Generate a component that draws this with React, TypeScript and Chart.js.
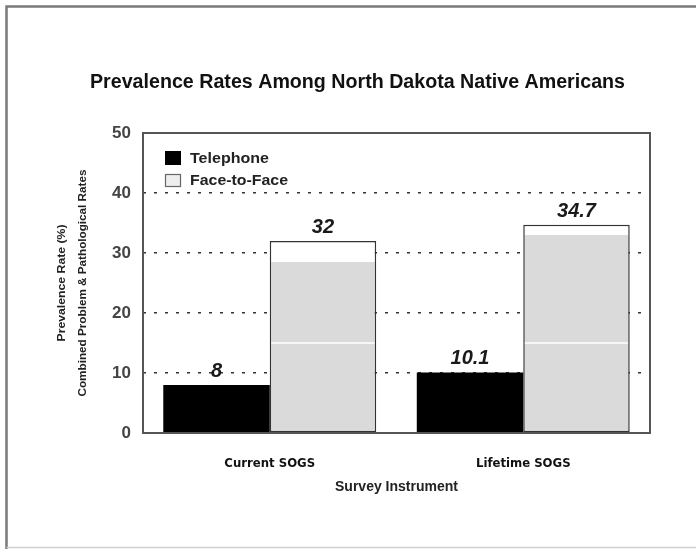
import React, { useEffect, useRef } from "react";
import { Chart, registerables } from "chart.js";
Chart.register(...registerables);

const categories = ["Current SOGS", "Lifetime SOGS"];
const seriesLabels = ["Telephone", "Face-to-Face"];
const telephone = [8, 10.1];
const faceToFace = [32, 34.7];
const faceShadeTop = [28.5, 33];
const faceBandLine = 15;
const yMin = 0;
const yMax = 50;
const yStep = 10;
const titleText = "Prevalence Rates Among North Dakota Native Americans";
const yTitleLines = ["Prevalence Rate (%)", "Combined Problem & Pathological Rates"];
const xTitleText = "Survey Instrument";

const GRAY = "#dadada";
const NARROW = "'Liberation Sans Narrow', 'DejaVu Sans Condensed', 'Liberation Sans', Arial, sans-serif";
const SANS = "'Liberation Sans', Arial, sans-serif";

function fitText(ctx: CanvasRenderingContext2D, text: string, cx: number, cy: number, width: number) {
  const w = ctx.measureText(text).width;
  const sx = width / w;
  ctx.save();
  ctx.translate(cx, cy);
  ctx.scale(sx, 1);
  ctx.textAlign = "center";
  ctx.textBaseline = "middle";
  ctx.fillText(text, 0, 0);
  ctx.restore();
}

const decorPlugin = {
  id: "decor",
  beforeDraw(chart: any) {
    const ctx = chart.ctx as CanvasRenderingContext2D;
    ctx.save();
    ctx.fillStyle = "#fff";
    ctx.fillRect(0, 0, chart.width, chart.height);
    ctx.strokeStyle = "#7a7a7a";
    ctx.lineWidth = 2.5;
    ctx.beginPath();
    ctx.moveTo(6.5, chart.height);
    ctx.lineTo(6.5, 6.5);
    ctx.lineTo(chart.width, 6.5);
    ctx.stroke();
    ctx.strokeStyle = "#d0d0d0";
    ctx.lineWidth = 1.5;
    ctx.beginPath();
    ctx.moveTo(6.5, 547.5);
    ctx.lineTo(chart.width, 547.5);
    ctx.stroke();
    ctx.restore();
  },
  afterDraw(chart: any) {
    const ctx = chart.ctx as CanvasRenderingContext2D;
    const a = chart.chartArea;
    ctx.save();
    // plot border
    ctx.setLineDash([]);
    ctx.strokeStyle = "#555";
    ctx.lineWidth = 2;
    ctx.strokeRect(a.left, a.top, a.right - a.left, a.bottom - a.top);

    // title
    ctx.fillStyle = "#111";
    ctx.font = `bold 20px ${SANS}`;
    fitText(ctx, titleText, (90 + 625) / 2, 82, 535);

    // y title
    ctx.fillStyle = "#222";
    ctx.font = `bold 10px ${SANS}`;
    const cy = (a.top + a.bottom) / 2;
    ctx.save();
    ctx.translate(62, cy);
    ctx.rotate(-Math.PI / 2);
    fitText(ctx, yTitleLines[0], 0, 0, 117);
    ctx.restore();
    ctx.save();
    ctx.translate(83, cy);
    ctx.rotate(-Math.PI / 2);
    fitText(ctx, yTitleLines[1], 0, 0, 227);
    ctx.restore();

    // x title
    ctx.fillStyle = "#222";
    ctx.font = `bold 15px ${SANS}`;
    fitText(ctx, xTitleText, (a.left + a.right) / 2, 487, 123);

    // legend
    const lx = a.left + 22;
    ctx.fillStyle = "#000";
    ctx.fillRect(lx, 151, 16, 14);
    ctx.fillStyle = "#eee";
    ctx.fillRect(lx, 174, 16, 13);
    ctx.strokeStyle = "#666";
    ctx.lineWidth = 1.2;
    ctx.strokeRect(lx + 0.5, 174.5, 15, 12);
    ctx.fillStyle = "#222";
    ctx.font = `bold 15px ${SANS}`;
    ctx.textAlign = "left";
    ctx.textBaseline = "middle";
    const t0 = ctx.measureText(seriesLabels[0]).width;
    ctx.save();
    ctx.translate(lx + 25, 158.5);
    ctx.scale(79 / t0, 1);
    ctx.fillText(chart.data.datasets[0].label, 0, 0);
    ctx.restore();
    const t1 = ctx.measureText(seriesLabels[1]).width;
    ctx.save();
    ctx.translate(lx + 25, 181);
    ctx.scale(98 / t1, 1);
    ctx.fillText(chart.data.datasets[1].label, 0, 0);
    ctx.restore();

    // value labels
    ctx.fillStyle = "#1a1a1a";
    ctx.font = `italic bold 20px ${SANS}`;
    ctx.textAlign = "center";
    ctx.textBaseline = "alphabetic";
    chart.data.datasets.forEach((ds: any, di: number) => {
      const meta = chart.getDatasetMeta(di);
      meta.data.forEach((el: any, i: number) => {
        ctx.fillText(String(ds.data[i]), el.x, el.y - 8);
      });
    });
    ctx.restore();
  },
};

export default function App() {
  const ref = useRef<HTMLCanvasElement>(null);
  useEffect(() => {
    if (!ref.current) return;
    const faceFill = (c: any) => {
      const chart = c.chart;
      const ys = chart.scales?.y;
      if (!ys || c.type !== "data" || c.dataIndex == null) return GRAY;
      const i = c.dataIndex;
      const top = ys.getPixelForValue(faceToFace[i]);
      const bot = ys.getPixelForValue(0);
      if (!isFinite(top) || !isFinite(bot) || bot - top < 2) return GRAY;
      const g = chart.ctx.createLinearGradient(0, top, 0, bot);
      const p = (v: number) => Math.min(1, Math.max(0, (ys.getPixelForValue(v) - top) / (bot - top)));
      const s = p(faceShadeTop[i]);
      const l = p(faceBandLine);
      const lw = 1 / (bot - top);
      g.addColorStop(0, "#fff");
      g.addColorStop(s, "#fff");
      g.addColorStop(s, GRAY);
      g.addColorStop(l - lw, GRAY);
      g.addColorStop(l - lw, "#f6f6f6");
      g.addColorStop(l + lw, "#f6f6f6");
      g.addColorStop(l + lw, GRAY);
      g.addColorStop(1, GRAY);
      return g;
    };
    const chart = new Chart(ref.current, {
      type: "bar",
      data: {
        labels: categories,
        datasets: [
          {
            label: seriesLabels[0],
            data: telephone,
            backgroundColor: "#000",
            borderWidth: 0,
            categoryPercentage: 0.84,
            barPercentage: 1.0,
          },
          {
            label: seriesLabels[1],
            data: faceToFace,
            backgroundColor: faceFill,
            borderColor: "#333",
            borderWidth: 1.5,
            borderSkipped: false,
            categoryPercentage: 0.84,
            barPercentage: 1.0,
          },
        ],
      },
      options: {
        responsive: false,
        animation: false,
        layout: { padding: { left: 103, top: 133, right: 46, bottom: 0 } },
        plugins: {
          legend: { display: false },
          title: { display: false },
          tooltip: { enabled: false },
        },
        scales: {
          x: {
            grid: { display: false },
            border: { display: false },
            ticks: {
              color: "#111",
              font: { family: NARROW, size: 13, weight: "bold" },
              padding: 15,
            },
            afterFit: (s: any) => {
              s.height = 116;
            },
          },
          y: {
            min: yMin,
            max: yMax,
            ticks: {
              stepSize: yStep,
              color: "#444",
              font: { family: SANS, size: 17, weight: "bold" },
              padding: 12,
            },
            grid: {
              drawTicks: false,
              color: (c: any) =>
                c.tick && (c.tick.value === yMin || c.tick.value === yMax) ? "rgba(0,0,0,0)" : "#333",
              lineWidth: 1.5,
            },
            border: { display: false, dash: [3, 8] },
            afterFit: (s: any) => {
              s.width = 40;
            },
          },
        },
      },
      plugins: [decorPlugin],
    } as any);
    return () => chart.destroy();
  }, []);
  return (
    <div style={{ position: "absolute", left: 0, top: 0, width: 696, height: 549 }}>
      <canvas ref={ref} width={696} height={549} style={{ display: "block" }} />
    </div>
  );
}
